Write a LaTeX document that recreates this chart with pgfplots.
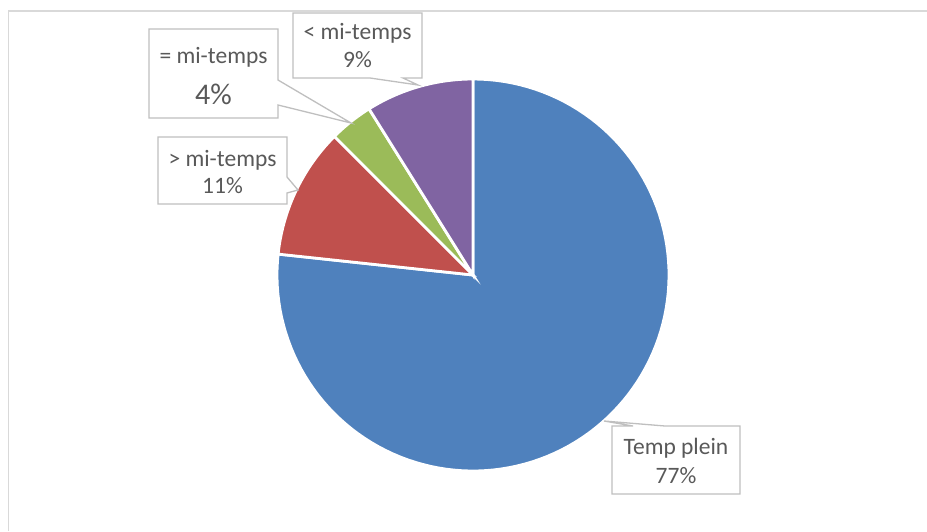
\documentclass[border=0pt]{standalone}
\usepackage{pgfplots}
\pgfplotsset{compat=1.18}
\usepackage{pgfplotstable}
\usepackage{fontspec}
\setmainfont{Carlito}
\definecolor{pieblue}{HTML}{4F81BD}
\definecolor{piered}{HTML}{C0504D}
\definecolor{piegreen}{HTML}{9BBB59}
\definecolor{piepurple}{HTML}{8064A2}
\definecolor{txt}{HTML}{595959}
\definecolor{boxc}{HTML}{BFBFBF}
\definecolor{frame}{HTML}{D9D9D9}
\pgfplotstableread{
label value
Temp 76.7
Plus 10.8
Egal 3.6
Moins 8.9
}\piedata
\begin{document}
\begin{tikzpicture}
\path[use as bounding box] (0,0) rectangle (927pt,531pt);
\pgfplotstablegetelem{0}{value}\of\piedata \let\vA\pgfplotsretval
\pgfplotstablegetelem{1}{value}\of\piedata \let\vB\pgfplotsretval
\pgfplotstablegetelem{2}{value}\of\piedata \let\vC\pgfplotsretval
\pgfplotstablegetelem{3}{value}\of\piedata \let\vD\pgfplotsretval
\pgfmathsetmacro\aA{90}
\pgfmathsetmacro\aB{\aA-3.6*\vA}
\pgfmathsetmacro\aC{\aB-3.6*\vB}
\pgfmathsetmacro\aD{\aC-3.6*\vC}
\pgfmathsetmacro\aE{\aD-3.6*\vD}
\begin{axis}[hide axis, scale only axis, width=927pt, height=531pt,
  xmin=0, xmax=927, ymin=0, ymax=531, y dir=reverse, clip=false,
  at={(0,0)}, anchor=south west]
% frame
\draw[frame, line width=1.5pt] (axis cs:8.5,531) -- (axis cs:8.5,11) -- (axis cs:927,11);
% slices
\addplot[fill=pieblue, draw=white, line width=2.8pt, domain=\aB:\aA, samples=120, variable=\t]
  ({473+196*cos(\t)}, {275-196*sin(\t)}) -- (axis cs:473,275) -- cycle;
\addplot[fill=piered, draw=white, line width=2.8pt, domain=\aC:\aB, samples=30, variable=\t]
  ({473+196*cos(\t)}, {275-196*sin(\t)}) -- (axis cs:473,275) -- cycle;
\addplot[fill=piegreen, draw=white, line width=2.8pt, domain=\aD:\aC, samples=15, variable=\t]
  ({473+196*cos(\t)}, {275-196*sin(\t)}) -- (axis cs:473,275) -- cycle;
\addplot[fill=piepurple, draw=white, line width=2.8pt, domain=\aE:\aD, samples=30, variable=\t]
  ({473+196*cos(\t)}, {275-196*sin(\t)}) -- (axis cs:473,275) -- cycle;
% callouts
\draw[boxc, line width=1.3pt, fill=white, line join=miter]
  (axis cs:293,13) -- (axis cs:422,13) -- (axis cs:422,78) -- (axis cs:403,78) -- (axis cs:418,85) -- (axis cs:370,78) -- (axis cs:293,78) -- cycle;
\draw[boxc, line width=1.3pt, fill=white]
  (axis cs:149,29) -- (axis cs:278,29) -- (axis cs:278,80) -- (axis cs:351,123) -- (axis cs:278,105) -- (axis cs:278,118) -- (axis cs:149,118) -- cycle;
\draw[boxc, line width=1.3pt, fill=white]
  (axis cs:158,137) -- (axis cs:287,137) -- (axis cs:287,177) -- (axis cs:298,190) -- (axis cs:287,193) -- (axis cs:287,204) -- (axis cs:158,204) -- cycle;
\draw[boxc, line width=1.3pt, fill=white]
  (axis cs:612,426) -- (axis cs:633,426) -- (axis cs:604,421) -- (axis cs:665,426) -- (axis cs:740,426) -- (axis cs:740,494) -- (axis cs:612,494) -- cycle;
% labels
\begin{scope}[every node/.style={text=txt, anchor=base, inner sep=0pt, font=\fontsize{23.5}{28}\selectfont}]
\node at (axis cs:357.5,39) {< mi-temps};
\node at (axis cs:357.5,67) {9\%};
\node at (axis cs:213.5,63) {= mi-temps};
\node[font=\fontsize{30}{36}\selectfont] at (axis cs:213.5,104) {4\%};
\node at (axis cs:222.5,166) {> mi-temps};
\node at (axis cs:222.5,193) {11\%};
\node at (axis cs:676,454) {Temp plein};
\node at (axis cs:676,483) {77\%};
\end{scope}
\end{axis}
\end{tikzpicture}
\end{document}
